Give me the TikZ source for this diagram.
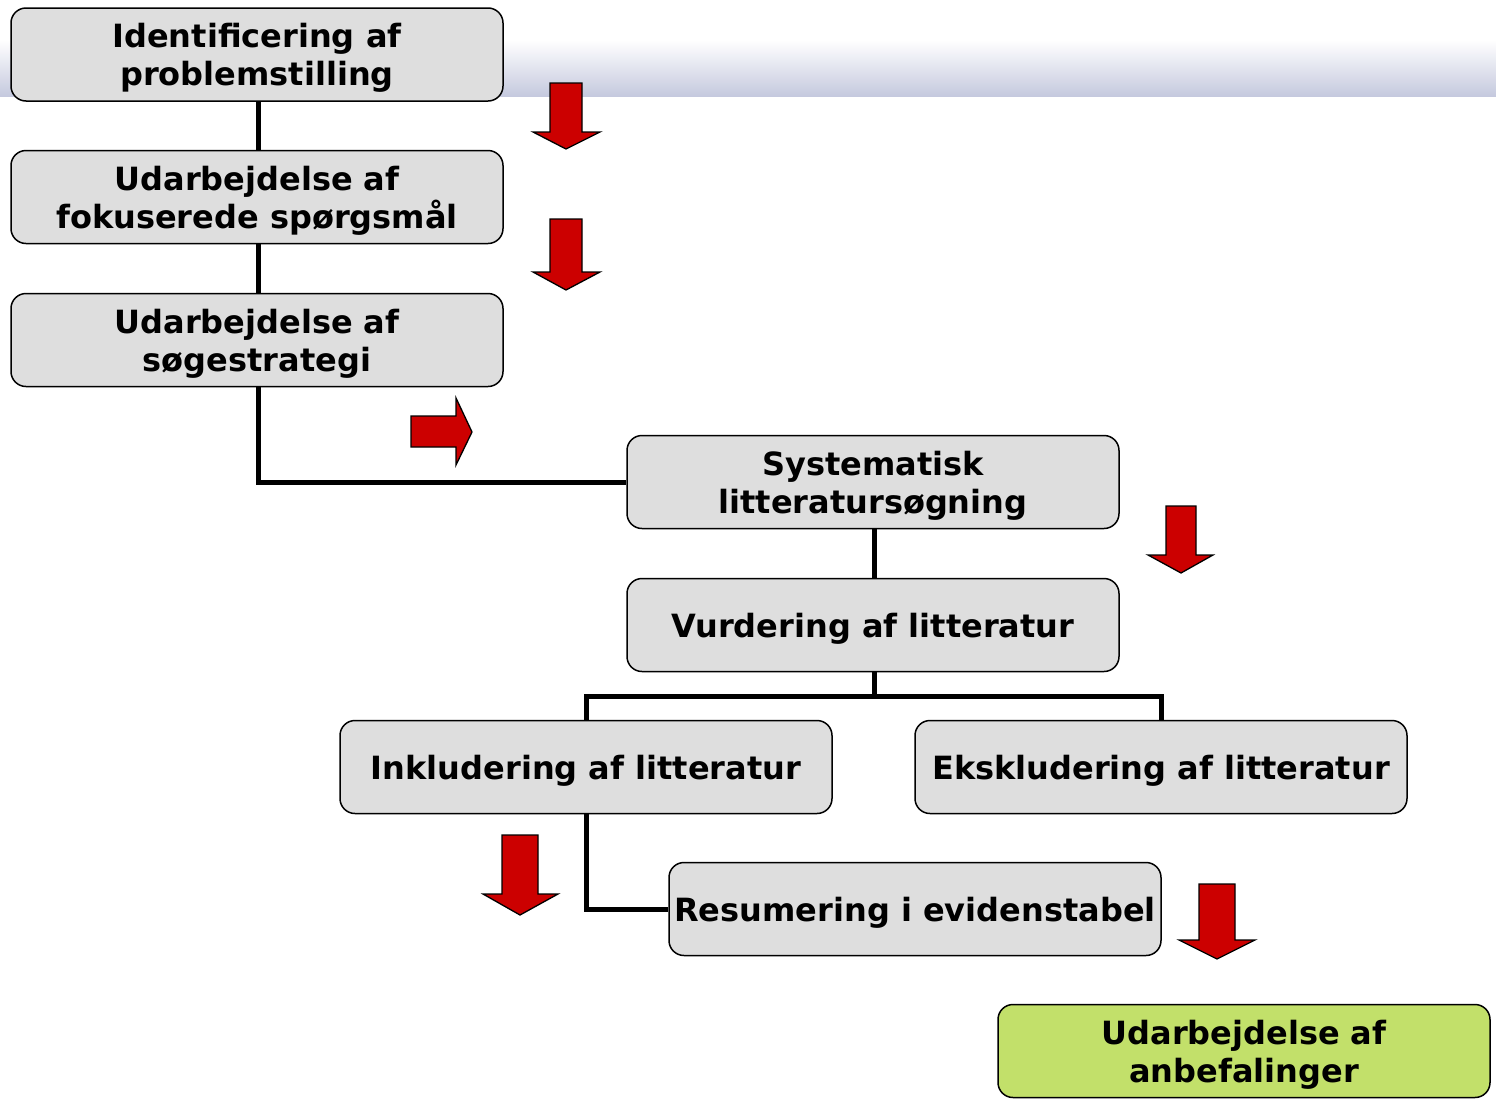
\documentclass[tikz,border=0pt]{standalone}
\usepackage{fontspec}
\setmainfont{DejaVu Sans}
\definecolor{boxgray}{HTML}{DEDEDE}
\definecolor{boxgreen}{HTML}{C2E06A}
\definecolor{arrowred}{HTML}{CC0000}
\definecolor{bandblue}{HTML}{C5C9DE}
\tikzset{
  stepbox/.style={draw=black, line width=1.5pt, rounded corners=15pt, fill=boxgray,
    minimum width=492pt, minimum height=93pt, align=center, inner sep=2pt,
    text depth=0pt,
    font=\fontsize{32}{38}\selectfont\bfseries},
  greenbox/.style={stepbox, fill=boxgreen},
  conn/.style={draw=black, line width=5pt},
  redarrow/.style={fill=arrowred, draw=black, line width=1.3pt, line join=miter}
}
\begin{document}
\begin{tikzpicture}[x=1pt,y=-1pt]
\useasboundingbox (0,0) rectangle (1496,1098);
% background band
\shade[top color=white, bottom color=bandblue] (0,40) rectangle (1496,96);

% nodes
\node[stepbox] (n1) at (257,54.5) {Identificering af\\problemstilling};
\node[stepbox] (n2) at (257,197) {Udarbejdelse af\\fokuserede spørgsmål};
\node[stepbox] (n3) at (257,340) {Udarbejdelse af\\søgestrategi};
\node[stepbox] (n4) at (873,482) {Systematisk\\litteratursøgning};
\node[stepbox] (n5) at (873,625) {Vurdering af litteratur};
\node[stepbox] (n6) at (586,767) {Inkludering af litteratur};
\node[stepbox] (n7) at (1161,767) {Ekskludering af litteratur};
\node[stepbox] (n8) at (915,909) {Resumering i evidenstabel};
\node[greenbox] (n9) at (1244,1051) {Udarbejdelse af\\anbefalinger};

% connectors
\coordinate (j5) at (874,696);
\draw[conn] (n1.south -| 258,0) -- (n2.north -| 258,0);
\draw[conn] (n2.south -| 258,0) -- (n3.north -| 258,0);
\draw[conn] (n3.south -| 258,0) |- (n4.west);
\draw[conn] (n4.south -| 874,0) -- (n5.north -| 874,0);
\draw[conn] (n5.south -| 874,0) -- (j5);
\draw[conn] (n6.north) |- (j5) -| (n7.north);
\draw[conn] (n6.south) |- (n8.west);

% red block arrows
\draw[redarrow] (550,83) -- (582,83) -- (582,132) -- (600,132) -- (566,149) -- (533,132) -- (550,132) -- cycle;
\draw[redarrow] (550,219) -- (582,219) -- (582,272) -- (600,272) -- (566,290) -- (533,272) -- (550,272) -- cycle;
\draw[redarrow] (411,416) -- (456,416) -- (456,398) -- (472,432) -- (456,465) -- (456,447) -- (411,447) -- cycle;
\draw[redarrow] (1166,506) -- (1196,506) -- (1196,555) -- (1213,555) -- (1181,573) -- (1148,555) -- (1166,555) -- cycle;
\draw[redarrow] (502,835) -- (538,835) -- (538,894) -- (558,894) -- (520,915) -- (483,894) -- (502,894) -- cycle;
\draw[redarrow] (1199,884) -- (1235,884) -- (1235,940) -- (1255,940) -- (1217,959) -- (1179,940) -- (1199,940) -- cycle;
\end{tikzpicture}
\end{document}
